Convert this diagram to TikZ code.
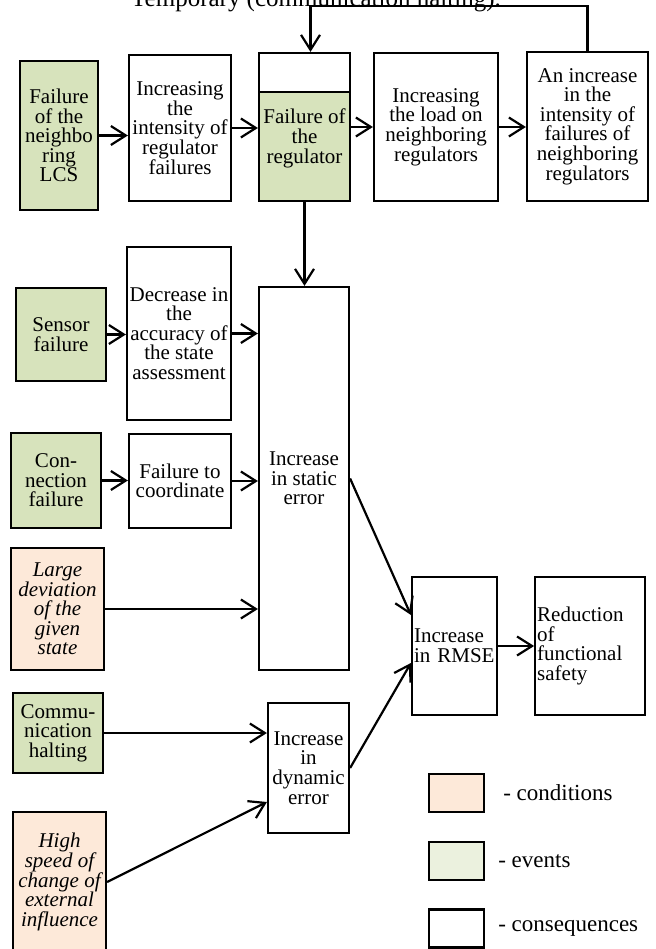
\documentclass[tikz,border=0pt]{standalone}
\usepackage{fontspec}
\setmainfont{Liberation Serif}
\usepackage{xcolor}
\usepackage{tikz}
\usetikzlibrary{positioning, arrows.meta}
\definecolor{evgreen}{RGB}{215,227,188}
\definecolor{evlight}{RGB}{235,241,222}
\definecolor{condpink}{RGB}{253,233,217}
\tikzstyle{consequence} = [rectangle, draw=black, line width=2.2pt, fill=white, align=center, inner sep=2pt, font=\fontsize{21}{19.6}\selectfont]
\tikzstyle{event} = [consequence, fill=evgreen]
\tikzstyle{condition} = [consequence, fill=condpink, font=\itshape\fontsize{21}{19.6}\selectfont]
\tikzstyle{legendbox} = [rectangle, draw=black, line width=2.2pt, minimum width=55pt, minimum height=38pt]
\tikzstyle{legendtext} = [inner sep=0pt, font=\fontsize{23}{24}\selectfont]
\tikzstyle{arrow} = [line width=2.2pt, -{Straight Barb[length=15pt,width=19pt]}]

\begin{document}
\begin{tikzpicture}[x=1pt, y=-1pt]
  \useasboundingbox (0,0) rectangle (655,949);

  % Title (cut by the top edge)
  \node (title) [anchor=base, inner sep=0pt, font=\fontsize{25}{30}\selectfont] at (316,7) {Temporary (communication halting).};

  % Regulator chain
  \node (nbr) [event, minimum width=78pt, minimum height=149pt] at (59,135.5) {Failure\\of the\\neighbo\\ring\\LCS};
  \node (incint) [consequence, minimum width=102pt, minimum height=146pt] at (180,128) {Increasing\\the\\intensity of\\regulator\\failures};
  \node (regtop) [consequence, minimum width=91pt, minimum height=39pt] at (304.5,72.5) {};
  \node (reg) [event, minimum width=91pt, minimum height=109pt] at (304.5,146.5) {Failure of\\the\\regulator\\[1pt]\mbox{}};
  \node (load) [consequence, minimum width=124pt, minimum height=148pt] at (436,127) {Increasing\\the load on\\neighboring\\regulators};
  \node (intnbr) [consequence, minimum width=121pt, minimum height=149pt] at (587.5,126.5) {An increase\\in the\\intensity of\\failures of\\neighboring\\regulators};

  % Static error branch
  \node (static) [consequence, minimum width=90pt, minimum height=383pt] at (304,478.5) {Increase\\in static\\error};
  \node (sensor) [event, minimum width=90pt, minimum height=93pt] at (61,334.5) {Sensor\\failure};
  \node (accuracy) [consequence, minimum width=104pt, minimum height=173pt] at (179,333.5) {Decrease in\\the\\accuracy of\\the state\\assessment};
  \node (connect) [event, minimum width=90pt, minimum height=95pt] at (56,480.5) {Con-\\nection\\failure};
  \node (coord) [consequence, minimum width=102pt, minimum height=94pt] at (180,481) {Failure to\\coordinate};
  \node (largedev) [condition, minimum width=93pt, minimum height=122pt] at (57.5,609) {Large\\deviation\\of the\\given\\state};

  % Dynamic error branch
  \node (halting) [event, minimum width=90pt, minimum height=80pt] at (58,733) {Commu-\\nication\\halting};
  \node (dynamic) [consequence, minimum width=81pt, minimum height=130pt] at (308.5,768) {Increase\\in\\dynamic\\error};
  \node (highspeed) [condition, minimum width=93pt, minimum height=140pt] at (59.5,882) {High\\speed of\\change of\\external\\influence};

  % Result
  \node (rmse) [consequence, minimum width=85pt, minimum height=138pt, text width=81pt, align=left] at (454.5,646) {Increase\\in RMSE};
  \node (safety) [consequence, minimum width=110pt, minimum height=138pt, text width=106pt, align=left, right=36pt of rmse] {Reduction\\of\\functional\\safety};

  % Legend
  \node (lcond) [legendbox, fill=condpink] at (456.5,793) {};
  \node (levent) [legendbox, fill=evlight, below=27.5pt of lcond] {};
  \node (lcons) [legendbox, fill=white, below=27.5pt of levent] {};
  \node (tcond) [legendtext, right=18pt of lcond] {- conditions};
  \node (tevent) [legendtext, right=13pt of levent] {- events};
  \node (tcons) [legendtext, right=13pt of lcons] {- consequences};

  % Arrows
  \draw[arrow] (nbr.east) -- (nbr.east -| incint.west);
  \draw[arrow] (incint.east) -- (incint.east -| reg.west);
  \draw[arrow] (reg.east |- load.west) -- (load.west);
  \draw[arrow] (load.east) -- (load.east -| intnbr.west);
  \draw[arrow] (intnbr.north) -- ++(0,-45) -| ([xshift=6pt]regtop.north);
  \draw[arrow] (reg.south) -- (reg.south |- static.north);

  \draw[arrow] (sensor.east) -- (sensor.east -| accuracy.west);
  \draw[arrow] (accuracy.east) -- (accuracy.east -| static.west);
  \draw[arrow] (connect.east) -- (connect.east -| coord.west);
  \draw[arrow] (coord.east) -- (coord.east -| static.west);
  \draw[arrow] (largedev.east) -- (largedev.east -| static.west);

  \draw[arrow] (halting.east) -- (halting.east -| dynamic.west);
  \draw[arrow] (highspeed.east) -- ([yshift=-34pt]dynamic.west);

  % Errors into RMSE
  \draw[arrow] (static.east) -- ([yshift=31pt]rmse.west);
  \draw[arrow] (dynamic.east) -- ([yshift=-17pt]rmse.west);
  \draw[arrow] (rmse.east) -- (safety.west);
\end{tikzpicture}
\end{document}
